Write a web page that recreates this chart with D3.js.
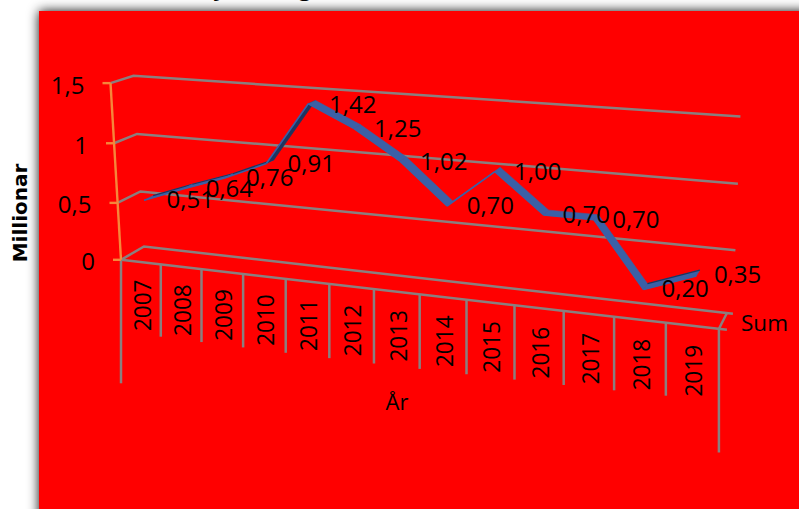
<!DOCTYPE html>
<html><head><meta charset="utf-8">
<script src="https://cdn.jsdelivr.net/npm/d3@7"></script>
<style>html,body{margin:0;padding:0;background:#fff;overflow:hidden}svg{display:block}text{font-family:"Open Sans",sans-serif;fill:#000}</style>
</head><body><svg id="c" width="799" height="509"></svg>
<script>
const years=["2007","2008","2009","2010","2011","2012","2013","2014","2015","2016","2017","2018","2019"];
const values=[0.51,0.64,0.76,0.91,1.42,1.25,1.02,0.70,1.00,0.70,0.70,0.20,0.35];
const valueLabels=["0,51","0,64","0,76","0,91","1,42","1,25","1,02","0,70","1,00","0,70","0,70","0,20","0,35"];
const yTicks=[0,0.5,1,1.5];
const yTickLabels=["0","0,5","1","1,5"];
const yTitle="Millionar", xTitle="År", seriesName="Sum";

const svg=d3.select("#c");
const defs=svg.append("defs");
const flt=defs.append("filter").attr("id","sh").attr("x","-10%").attr("y","-10%").attr("width","120%").attr("height","120%");
flt.append("feGaussianBlur").attr("in","SourceAlpha").attr("stdDeviation",5.6).attr("result","b");
flt.append("feFlood").attr("flood-color","#000").attr("flood-opacity",.95);
flt.append("feComposite").attr("in2","b").attr("operator","in").attr("result","s");
const mg=flt.append("feMerge");mg.append("feMergeNode").attr("in","s");mg.append("feMergeNode").attr("in","SourceGraphic");
svg.append("rect").attr("x",39).attr("y",11).attr("width",790).attr("height",530).attr("fill","#f00").attr("filter","url(#sh)");

// clipped title fragments
svg.selectAll("text.t").data([["y",220],["g",305]]).enter().append("text").attr("class","t")
  .attr("x",d=>d[1]).attr("y",-5).attr("text-anchor","middle").style("font-size","24px").style("font-weight",700).text(d=>d[0]);

// perspective scene: u along the category axis, d into depth, v value
const n=years.length;
const band=d3.scaleLinear().domain([0,n]).range([0,n]);
const xFront=u=>121+39.35*band(u)/(1-0.01111*band(u));
const frac=d3.scaleLinear().domain([121,719]).range([0,1]);
const depthX=d3.scaleLinear().domain([0,1]).range([23,8]);
const depthY=d3.scaleLinear().domain([0,1]).range([-13.3,-16]);
const lean=d3.scaleLinear().domain([0,1]).range([-7,5]);
const rise=d3.scaleLinear().domain(yTicks).range([0,55,112.6,170.7]);
const riseK=d3.scaleLinear().domain([0,1]).range([1,1.155]);
const floorY=d3.scaleLinear().domain([121,719]).range([259.8,329]);
function P(u,v,d){
  const xf=xFront(u), f=frac(xf);
  return [xf+d*depthX(f)+v*lean(f),
          floorY(xf)+d*depthY(f)-rise(v)*riseK(f)*(1+(1-d)*0.035)];
}
const G="#8a7f7f", line=d3.line();
const gGrid=svg.append("g").attr("fill","none").attr("stroke",G).attr("stroke-width",2.5);
yTicks.forEach(v=>{
  const end=P(n,v,1);
  gGrid.append("path").attr("d",line([P(0,v,0),P(0,v,1),[end[0]+6,end[1]+0.7]]));
});
// floor front edge, right wall edge and category ticks
const fl=P(n,0,0);
gGrid.append("path").attr("d",line([P(0,0,0),[fl[0]+8,fl[1]+0.8]]));
gGrid.append("path").attr("d",line([P(n,0,0),P(n,0,1)]));
const bottom=d3.scaleLinear().domain([1,n-1]).range([336.7,395.7]);
d3.range(n+1).forEach(i=>{
  const p=P(i,0,0);
  const isEnd=i===0||i===n;
  gGrid.append("line").attr("x1",p[0]).attr("x2",p[0]).attr("y1",p[1])
    .attr("y2",isEnd?p[1]+123.5:bottom(i));
});
// y axis
const O="#f5863a";
const gAxis=svg.append("g").attr("stroke",O).attr("stroke-width",2.4).attr("fill","none");
gAxis.append("path").attr("d",line([P(0,yTicks[0],0),P(0,yTicks[3],0)]));
yTicks.forEach((v,i)=>{
  const p=P(0,v,0);
  gAxis.append("line").attr("x1",p[0]-8).attr("x2",p[0]).attr("y1",p[1]).attr("y2",p[1]);
  svg.append("text").attr("x",p[0]-26).attr("y",p[1]+1).attr("text-anchor","end").attr("dominant-baseline","central")
    .style("font-size","24px").text(yTickLabels[i]);
});
// ribbon
const dA=0.30,dB=0.70;
const pts=values.map((v,i)=>({a:P(i+.5,v,dA),b:P(i+.5,v,dB)}));
const BLUE="#3b60a6",DARK="#1d3560";
const gR=svg.append("g");
d3.pairs(pts).forEach(([s,e])=>{
  const sx=e.a[0]-s.a[0],sy=e.a[1]-s.a[1],dx=s.b[0]-s.a[0],dy=s.b[1]-s.a[1];
  const flip=sx*dy-sy*dx>0;
  gR.append("path").attr("d",line([s.a,e.a,e.b,s.b])+"Z").attr("fill",flip?DARK:BLUE).attr("stroke",flip?DARK:BLUE).attr("stroke-width",.6);
  gR.append("path").attr("d",line([s.a,e.a])).attr("fill","none").attr("stroke",BLUE).attr("stroke-width",1.6);
  if(sy<0&&!flip&&sy/sx>-0.5) gR.append("path").attr("d",line([s.b,e.b])).attr("fill","none").attr("stroke",DARK).attr("stroke-width",1.2);
});
// value labels
const off=d3.scaleLinear().domain([0,n-1]).range([41.5,39.5]);
values.forEach((v,i)=>{
  const c=[(pts[i].a[0]+pts[i].b[0])/2,(pts[i].a[1]+pts[i].b[1])/2];
  svg.append("text").attr("x",c[0]+off(i)).attr("y",c[1]+1).attr("text-anchor","middle").attr("dominant-baseline","central")
    .style("font-size","24px").text(valueLabels[i]);
});
// year labels
years.forEach((y,i)=>{
  const xm=(xFront(i)+xFront(i+1))/2;
  const top=P(i,0,0)[1];
  const yc=top+ 45.5+ (i*0.2);
  svg.append("text").attr("transform",`translate(${xm+0.5},${yc}) rotate(-90) scale(0.94,1)`).attr("text-anchor","middle").attr("dominant-baseline","central")
    .style("font-size","24px").text(y);
});
svg.append("text").attr("x",397).attr("y",401).attr("text-anchor","middle").attr("dominant-baseline","central").style("font-size","22px").text(xTitle);
svg.append("text").attr("x",741).attr("y",322).attr("dominant-baseline","central").style("font-size","22.5px").text(seriesName);
svg.append("text").attr("transform","translate(20,213) rotate(-90)").attr("text-anchor","middle").attr("dominant-baseline","central")
  .style("font-family","'DejaVu Sans'").style("font-size","20px").style("font-weight",700).text(yTitle);
</script></body></html>
